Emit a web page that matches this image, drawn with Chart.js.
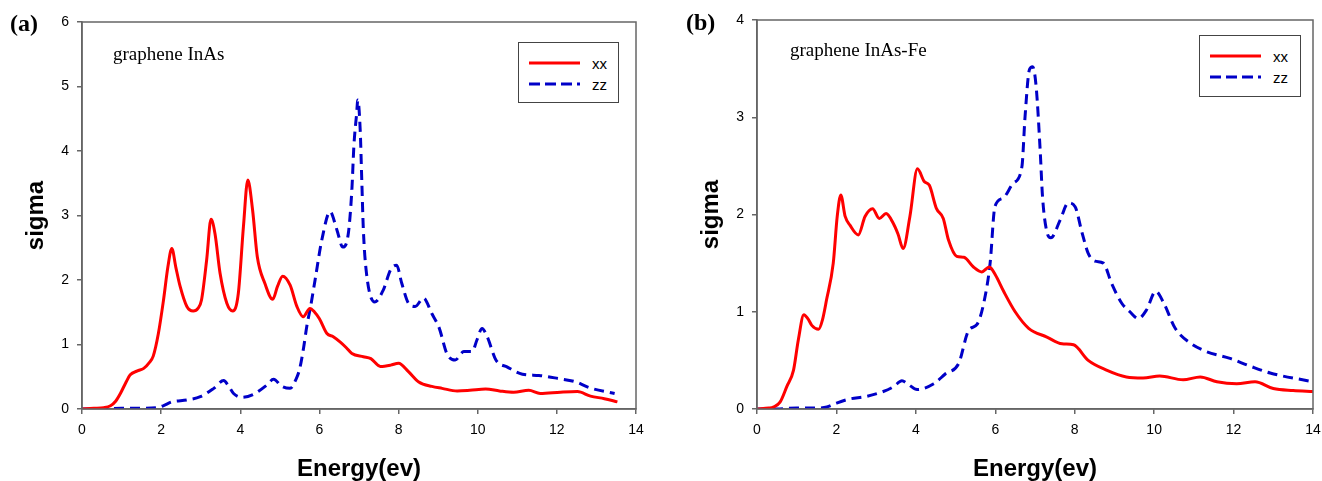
<!DOCTYPE html>
<html>
<head>
<meta charset="utf-8">
<script src="https://cdn.jsdelivr.net/npm/chart.js@4/dist/chart.umd.min.js"></script>
<style>
  html, body { margin: 0; padding: 0; background: #fff; }
  #wrap { position: relative; width: 1322px; height: 481px; background: #fff; overflow: hidden; }
  .pane { position: absolute; top: 0; width: 661px; height: 481px; }
  .tag { position: absolute; font-family: 'Liberation Serif', 'Times New Roman', serif; font-weight: bold; font-size: 24px; line-height: 24px; color: #000; white-space: nowrap; }
  .note { position: absolute; font-family: 'Liberation Serif', 'Times New Roman', serif; font-size: 19px; line-height: 19px; color: #000; white-space: nowrap; }
  .legend { position: absolute; box-sizing: border-box; border: 1px solid #444; background: #fff; }
  .legend svg { position: absolute; left: 10px; }
  .legend span { position: absolute; left: 73px; font-family: 'Liberation Sans', Arial, sans-serif; font-size: 15px; line-height: 15px; color: #000; }
</style>
</head>
<body>
<div id="wrap">
  <div class="pane" style="left:0px"><canvas id="chartA"></canvas></div>
  <div class="pane" style="left:661px"><canvas id="chartB"></canvas></div>
  <div class="tag" style="left:10px; top:11px">(a)</div>
  <div class="tag" style="left:686px; top:10px">(b)</div>
  <div class="note" style="left:113px; top:44px">graphene InAs</div>
  <div class="note" style="left:790px; top:40px">graphene InAs-Fe</div>
  <div class="legend" id="legA" style="left:518px; top:42px; width:101px; height:61px"></div>
  <div class="legend" id="legB" style="left:1199px; top:35px; width:102px; height:62px"></div>
</div>
<script>
// ---------------- data ----------------
const seriesNames = ['xx', 'zz'];
const xTicks = [0, 2, 4, 6, 8, 10, 12, 14];
const yTicksA = [0, 1, 2, 3, 4, 5, 6];
const yTicksB = [0, 1, 2, 3, 4];

// panel (a): graphene InAs
const energyXxA = [0, 0.3, 0.55, 0.72, 0.85, 0.97, 1.1, 1.22, 1.4, 1.56, 1.7, 1.8, 1.93, 2.06, 2.17, 2.27, 2.37, 2.48, 2.65, 2.81, 2.93, 3.02, 3.15, 3.26, 3.36, 3.49, 3.66, 3.81, 3.95, 4.08, 4.19, 4.31, 4.43, 4.62, 4.82, 4.94, 5.07, 5.26, 5.43, 5.59, 5.76, 5.88, 6.0, 6.19, 6.35, 6.52, 6.68, 6.82, 7.11, 7.3, 7.54, 7.8, 8.0, 8.25, 8.51, 8.84, 9.1, 9.48, 9.8, 10.2, 10.55, 10.91, 11.29, 11.58, 12.09, 12.52, 12.85, 13.2, 13.53];
const sigmaXxA  = [0, 0.01, 0.02, 0.05, 0.12, 0.24, 0.4, 0.53, 0.59, 0.63, 0.72, 0.82, 1.17, 1.69, 2.2, 2.49, 2.2, 1.9, 1.59, 1.52, 1.56, 1.69, 2.31, 2.94, 2.72, 2.1, 1.64, 1.52, 1.79, 2.83, 3.55, 3.09, 2.36, 1.95, 1.7, 1.9, 2.06, 1.92, 1.59, 1.43, 1.56, 1.5, 1.4, 1.17, 1.12, 1.04, 0.95, 0.86, 0.81, 0.78, 0.66, 0.68, 0.71, 0.58, 0.42, 0.35, 0.32, 0.28, 0.29, 0.31, 0.28, 0.26, 0.29, 0.24, 0.26, 0.27, 0.2, 0.16, 0.11];
const energyZzA = [0, 0.5, 1.0, 1.5, 1.9, 2.05, 2.27, 2.65, 2.99, 3.33, 3.58, 3.7, 3.83, 4.04, 4.34, 4.67, 4.84, 5.05, 5.26, 5.4, 5.5, 5.6, 5.68, 5.78, 5.89, 6.06, 6.27, 6.44, 6.59, 6.73, 6.82, 6.87, 6.94, 6.97, 7.03, 7.07, 7.11, 7.19, 7.4, 7.61, 7.8, 7.95, 8.08, 8.25, 8.42, 8.63, 8.84, 9.03, 9.22, 9.43, 9.65, 9.86, 9.98, 10.11, 10.24, 10.46, 10.75, 11.13, 11.55, 12.06, 12.48, 12.82, 13.46];
const sigmaZzA  = [0, 0, 0.01, 0.01, 0.02, 0.05, 0.11, 0.14, 0.19, 0.32, 0.44, 0.36, 0.24, 0.18, 0.23, 0.37, 0.46, 0.35, 0.32, 0.45, 0.62, 0.95, 1.28, 1.6, 2.0, 2.62, 3.06, 2.78, 2.51, 2.72, 3.4, 4.07, 4.58, 4.79, 4.33, 3.55, 2.78, 2.1, 1.66, 1.84, 2.16, 2.23, 1.95, 1.64, 1.59, 1.72, 1.48, 1.25, 0.86, 0.76, 0.89, 0.89, 1.07, 1.25, 1.12, 0.76, 0.65, 0.54, 0.52, 0.47, 0.42, 0.33, 0.24];

// panel (b): graphene InAs-Fe
const energyXxB = [0, 0.3, 0.41, 0.58, 0.75, 0.92, 1.04, 1.18, 1.28, 1.38, 1.55, 1.65, 1.75, 1.92, 2.02, 2.11, 2.22, 2.34, 2.55, 2.72, 2.91, 3.08, 3.25, 3.43, 3.55, 3.68, 3.85, 4.04, 4.21, 4.34, 4.52, 4.69, 4.82, 5.03, 5.21, 5.45, 5.66, 5.85, 6.0, 6.21, 6.5, 6.84, 7.3, 7.68, 7.97, 8.34, 8.8, 9.3, 9.72, 10.14, 10.73, 11.16, 11.58, 12.08, 12.54, 13.0, 13.5, 14.0];
const sigmaXxB  = [0, 0.01, 0.02, 0.07, 0.23, 0.4, 0.71, 0.97, 0.93, 0.86, 0.82, 0.92, 1.12, 1.5, 1.98, 2.2, 1.98, 1.89, 1.79, 1.98, 2.06, 1.96, 2.01, 1.91, 1.8, 1.65, 1.98, 2.47, 2.34, 2.3, 2.06, 1.96, 1.74, 1.57, 1.56, 1.46, 1.41, 1.46, 1.38, 1.21, 1.0, 0.83, 0.74, 0.67, 0.66, 0.5, 0.4, 0.33, 0.32, 0.34, 0.3, 0.33, 0.28, 0.26, 0.28, 0.21, 0.19, 0.18];
const energyZzB = [0, 0.5, 1.0, 1.5, 1.76, 2.0, 2.3, 2.76, 3.18, 3.44, 3.65, 3.82, 4.03, 4.45, 4.74, 5.08, 5.33, 5.54, 5.71, 5.87, 5.99, 6.2, 6.45, 6.67, 6.75, 6.86, 6.94, 7.03, 7.13, 7.19, 7.3, 7.4, 7.63, 7.84, 8.01, 8.18, 8.34, 8.51, 8.72, 8.93, 9.18, 9.39, 9.6, 9.81, 10.04, 10.23, 10.53, 10.9, 11.32, 11.91, 12.42, 12.92, 14.0];
const sigmaZzB  = [0, 0, 0.01, 0.01, 0.02, 0.06, 0.1, 0.13, 0.18, 0.23, 0.29, 0.25, 0.2, 0.26, 0.36, 0.47, 0.81, 0.87, 1.09, 1.5, 2.08, 2.17, 2.32, 2.49, 3.01, 3.49, 3.52, 3.31, 2.66, 2.18, 1.82, 1.76, 1.94, 2.12, 2.08, 1.82, 1.6, 1.52, 1.5, 1.29, 1.09, 1.0, 0.93, 1.02, 1.21, 1.1, 0.83, 0.68, 0.59, 0.52, 0.44, 0.37, 0.28];

// ---------------- styling / helpers ----------------
const RED = '#ff0000';
const BLUE = '#0000c8';
const AXIS = '#666666';
const SANS = "'Liberation Sans', Arial, sans-serif";

function zip(xs, ys) { return xs.map((x, i) => ({ x: x, y: ys[i] })); }

const framePlugin = {
  id: 'frame',
  afterDraw(chart) {
    const a = chart.chartArea, ctx = chart.ctx;
    ctx.save();
    ctx.strokeStyle = AXIS;
    ctx.lineWidth = 1.5;
    ctx.strokeRect(a.left, a.top, a.right - a.left, a.bottom - a.top);
    ctx.restore();
  }
};

function makeChart(id, xx, zz, yTicks, geo) {
  const ds = (label, pts, color, dash) => ({
    label: label, data: pts, borderColor: color, backgroundColor: color,
    borderWidth: 3, borderDash: dash, pointRadius: 0, fill: false,
    cubicInterpolationMode: 'monotone', borderCapStyle: 'butt'
  });
  return new Chart(document.getElementById(id), {
    type: 'line',
    data: { datasets: [ ds(seriesNames[0], xx, RED, []), ds(seriesNames[1], zz, BLUE, [10, 6]) ] },
    options: {
      responsive: true, maintainAspectRatio: false, animation: false,
      layout: { padding: { left: 0, top: geo.top, right: geo.right, bottom: 0 } },
      plugins: { legend: { display: false }, tooltip: { enabled: false } },
      scales: {
        x: {
          type: 'linear', min: xTicks[0], max: xTicks[xTicks.length - 1],
          afterBuildTicks: s => { s.ticks = xTicks.map(v => ({ value: v })); },
          afterFit: s => { s.height = 72; s.paddingRight = 0; s.paddingLeft = 0; },
          grid: { drawOnChartArea: false, drawTicks: true, tickLength: 5, color: AXIS, lineWidth: 1.5 },
          border: { color: AXIS, width: 1.5 },
          ticks: { color: '#000', font: { family: SANS, size: 14 }, padding: 8, maxRotation: 0 },
          title: { display: true, text: 'Energy(ev)', color: '#000',
                   font: { family: SANS, size: 24, weight: 'bold', lineHeight: 1 }, padding: { top: 0, bottom: 0 } }
        },
        y: {
          type: 'linear', min: yTicks[0], max: yTicks[yTicks.length - 1],
          afterBuildTicks: s => { s.ticks = yTicks.map(v => ({ value: v })); },
          afterFit: s => { s.width = geo.yw; s.paddingTop = 0; s.paddingBottom = 0; },
          grid: { drawOnChartArea: false, drawTicks: true, tickLength: 5, color: AXIS, lineWidth: 1.5 },
          border: { color: AXIS, width: 1.5 },
          ticks: { color: '#000', font: { family: SANS, size: 14 }, padding: 8 },
          title: { display: true, text: 'sigma', color: '#000',
                   font: { family: SANS, size: 24, weight: 'bold', lineHeight: 1 }, padding: { top: geo.titlePad, bottom: 0 } }
        }
      }
    },
    plugins: [framePlugin]
  });
}

makeChart('chartA', zip(energyXxA, sigmaXxA), zip(energyZzA, sigmaZzA), yTicksA,
          { top: 22, right: 25, yw: 82, titlePad: 24 });
makeChart('chartB', zip(energyXxB, sigmaXxB), zip(energyZzB, sigmaZzB), yTicksB,
          { top: 20, right: 9, yw: 96, titlePad: 38 });

// legends built from the series names
function buildLegend(id) {
  const el = document.getElementById(id);
  const styles = [{ color: RED, dash: '' , y: 20, ty: 13 }, { color: BLUE, dash: '11 5', y: 41, ty: 34 }];
  seriesNames.forEach((name, i) => {
    const st = styles[i];
    const svgNS = 'http://www.w3.org/2000/svg';
    const svg = document.createElementNS(svgNS, 'svg');
    svg.setAttribute('width', '52'); svg.setAttribute('height', '6');
    svg.style.top = (st.y - 3) + 'px';
    const ln = document.createElementNS(svgNS, 'line');
    ln.setAttribute('x1', '0'); ln.setAttribute('x2', '51');
    ln.setAttribute('y1', '3'); ln.setAttribute('y2', '3');
    ln.setAttribute('stroke', st.color); ln.setAttribute('stroke-width', '3');
    if (st.dash) ln.setAttribute('stroke-dasharray', st.dash);
    svg.appendChild(ln);
    el.appendChild(svg);
    const sp = document.createElement('span');
    sp.textContent = name;
    sp.style.top = st.ty + 'px';
    el.appendChild(sp);
  });
}
buildLegend('legA');
buildLegend('legB');
</script>
</body>
</html>
